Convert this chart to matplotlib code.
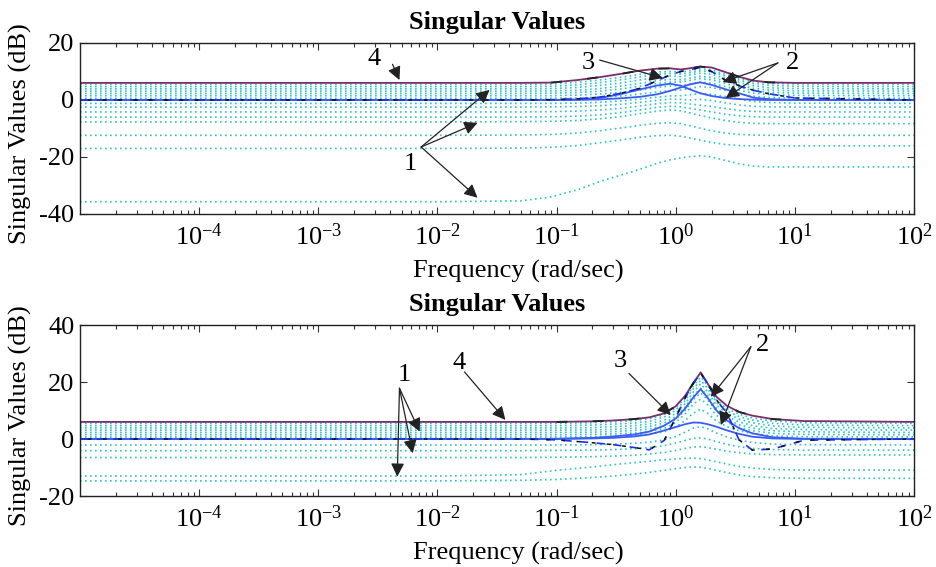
import numpy as np
import matplotlib
matplotlib.use('Agg')
import matplotlib.pyplot as plt
from matplotlib.ticker import LogLocator, NullFormatter, FixedLocator, FixedFormatter

plt.rcParams['font.family'] = ['Liberation Serif', 'DejaVu Serif']
plt.rcParams['axes.unicode_minus'] = False

# ---- top plot data (dB) ----
w_top = [1e-5, 0.01, 0.05, 0.09, 0.15, 0.23, 0.35, 0.5, 0.7, 0.9,
         1.1, 1.3, 1.6, 2.0, 2.6, 3.5, 4.5, 6, 10, 100]
top_sv4 = [6, 6, 6, 6.1, 7.0, 8.0, 9.2, 10.3, 11.0, 11.1,
           10.7, 11.1, 11.7, 11.4, 9.8, 8.0, 6.8, 6.2, 6.0, 6.0]
top_blue1 = [0, 0, 0, 0, 0.2, 0.7, 2.1, 3.7, 5.1, 5.7,
             5.0, 3.8, 2.4, 1.4, 0.7, 0.3, 0.1, 0, 0, 0]
top_blue2 = [0, 0, 0, 0, 0, 0.2, 0.6, 1.1, 2.0, 3.2,
             4.4, 5.4, 6.2, 5.3, 3.8, 2.2, 0.8, 0.3, 0, 0]
top_sv3 = [0, 0, 0, 0.1, 0.4, 1.0, 2.4, 4.1, 6.8, 8.8,
           10.0, 10.6, 11.4, 10.0, 7.0, 4.8, 3.4, 2.2, 0.7, 0]
top_cyan = [
    [5.5, 5.5, 5.5, 5.6, 6.2, 7.0, 8.0, 9.0, 9.8, 10.0, 9.8, 10.2, 10.9, 10.6, 9.0, 7.4, 6.5, 5.9, 5.6, 5.5],
    [4.7, 4.7, 4.7, 4.8, 5.3, 6.1, 7.1, 8.1, 9.0, 9.3, 9.1, 9.5, 10.2, 9.9, 8.4, 6.8, 5.8, 5.2, 4.8, 4.7],
    [3.9, 3.9, 3.9, 4.0, 4.4, 5.1, 6.0, 7.0, 8.0, 8.4, 8.2, 8.7, 9.4, 9.0, 7.6, 6.0, 5.0, 4.3, 4.0, 3.9],
    [3.1, 3.1, 3.1, 3.2, 3.4, 4.0, 4.9, 5.8, 6.8, 7.2, 7.1, 7.6, 8.3, 7.9, 6.6, 5.1, 4.1, 3.5, 3.2, 3.1],
    [2.3, 2.3, 2.3, 2.4, 2.6, 3.1, 3.9, 4.8, 5.8, 6.3, 6.3, 6.8, 7.5, 7.1, 5.8, 4.3, 3.3, 2.7, 2.4, 2.3],
    [1.5, 1.5, 1.5, 1.5, 1.7, 2.1, 2.7, 3.5, 4.4, 4.9, 5.1, 5.6, 6.3, 5.9, 4.7, 3.3, 2.4, 1.9, 1.6, 1.5],
    [0.6, 0.6, 0.6, 0.6, 0.7, 1.0, 1.4, 2.1, 2.8, 3.3, 3.5, 4.0, 4.7, 4.4, 3.3, 2.1, 1.3, 0.9, 0.7, 0.6],
    [-1.2, -1.2, -1.2, -1.2, -1.1, -0.8, -0.3, 0.3, 1.0, 1.4, 1.5, 1.8, 2.3, 2.0, 1.2, 0.2, -0.5, -0.9, -1.1, -1.2],
    [-2.5, -2.5, -2.5, -2.4, -2.3, -2.0, -1.5, -0.8, -0.1, 0.3, 0.2, 0.0, 0.2, -0.2, -1.0, -1.8, -2.2, -2.4, -2.5, -2.5],
    [-4.2, -4.2, -4.2, -4.1, -3.9, -3.5, -2.9, -2.1, -1.3, -0.9, -1.0, -1.4, -1.8, -2.3, -3.0, -3.7, -4.0, -4.2, -4.2, -4.2],
    [-6.0, -6.0, -6.0, -5.9, -5.7, -5.2, -4.4, -3.5, -2.6, -2.2, -2.4, -2.9, -3.5, -4.2, -5.0, -5.6, -5.9, -6.0, -6.0, -6.0],
    [-7.7, -7.7, -7.6, -7.5, -7.2, -6.6, -5.8, -4.8, -3.9, -3.5, -3.8, -4.5, -5.4, -6.3, -7.2, -7.9, -8.2, -8.3, -8.3, -8.3],
    [-12.4, -12.4, -12.3, -12.1, -11.6, -10.8, -9.8, -8.9, -8.2, -8.0, -8.3, -9.0, -9.9, -10.8, -11.6, -12.1, -12.3, -12.4, -12.4, -12.4],
    [-17.0, -17.0, -16.9, -16.6, -16.0, -15.0, -14.0, -13.1, -12.5, -12.4, -12.7, -13.3, -14.1, -14.9, -15.6, -16.0, -16.1, -16.1, -16.1, -16.1],
    [-35.7, -35.7, -35.4, -34.0, -31.5, -28.6, -26.3, -24.3, -22.2, -21.0, -20.3, -19.9, -19.6, -20.0, -21.2, -22.5, -23.2, -23.5, -23.5, -23.5],
]

# ---- bottom plot data (dB) ----
w_bot = [1e-5, 0.01, 0.05, 0.1, 0.2, 0.3, 0.45, 0.6, 0.8, 1.0, 1.2,
         1.4, 1.62, 1.85, 2.2, 2.7, 3.4, 4.4, 6.5, 12, 100]
bot_sv4 = [6, 6, 6, 6, 6.2, 6.5, 7.0, 7.6, 9.0, 11.5, 15.2,
           19.5, 23.4, 19.5, 14.8, 11.6, 9.5, 8.2, 7.0, 6.3, 6.0]
bot_blue1 = [0, 0, 0, 0.1, 0.4, 0.9, 1.6, 2.6, 4.7, 7.2, 10.7,
             14.5, 17.5, 14.5, 10.0, 6.5, 3.8, 2.0, 0.6, 0.1, 0]
bot_blue2 = [0, 0, 0, 0, 0.2, 0.4, 0.9, 1.6, 3.0, 4.2, 5.2,
             5.8, 5.7, 5.2, 4.3, 3.0, 1.8, 0.8, 0.2, 0, 0]
bot_sv3 = [0, 0, 0, -0.3, -1.3, -2.0, -3.0, -3.8, -0.5, 7.5, 14.5,
           19.5, 23.0, 19.5, 13.7, 9.0, -0.3, -3.9, -3.5, -0.4, 0]
bot_cyan = [
    [5.5, 5.5, 5.5, 5.5, 5.7, 6.0, 6.5, 7.1, 8.5, 11.0, 14.3, 18.5, 21.8, 18.8, 13.6, 10.6, 8.7, 7.4, 6.3, 5.7, 5.5],
    [4.7, 4.7, 4.7, 4.7, 4.9, 5.2, 5.6, 6.2, 7.7, 10.1, 13.5, 17.6, 20.6, 17.8, 12.8, 9.8, 7.9, 6.6, 5.5, 4.9, 4.7],
    [3.9, 3.9, 3.9, 3.9, 4.0, 4.3, 4.7, 5.3, 6.6, 9.0, 12.4, 16.4, 19.4, 16.6, 11.9, 8.9, 7.0, 5.7, 4.6, 4.1, 3.9],
    [3.1, 3.1, 3.1, 3.1, 3.2, 3.4, 3.8, 4.4, 5.6, 7.9, 11.2, 15.1, 17.8, 15.3, 10.8, 7.9, 6.0, 4.7, 3.7, 3.3, 3.1],
    [2.3, 2.3, 2.3, 2.3, 2.4, 2.6, 3.0, 3.5, 4.7, 6.9, 10.0, 13.8, 16.2, 13.8, 9.6, 6.9, 5.0, 3.8, 2.9, 2.5, 2.3],
    [1.5, 1.5, 1.5, 1.5, 1.6, 1.8, 2.1, 2.6, 3.7, 5.8, 8.8, 12.2, 14.0, 12.0, 8.3, 5.8, 4.1, 2.9, 2.0, 1.6, 1.5],
    [0.7, 0.7, 0.7, 0.7, 0.8, 1.0, 1.3, 1.7, 2.6, 4.2, 6.5, 9.0, 10.5, 9.0, 6.3, 4.3, 2.9, 1.9, 1.1, 0.8, 0.7],
    [-2.1, -2.1, -2.1, -2.1, -2.0, -1.8, -1.5, -1.1, -0.3, 0.9, 2.4, 3.8, 4.3, 3.6, 2.1, 0.7, -0.4, -1.2, -1.8, -2.0, -2.1],
    [-4.1, -4.1, -4.1, -4.0, -3.9, -3.7, -3.4, -3.0, -2.3, -1.4, -0.5, 0.2, 0.4, 0.0, -0.9, -1.9, -2.7, -3.3, -3.7, -3.9, -3.9],
    [-6.5, -6.5, -6.5, -6.4, -6.2, -6.0, -5.7, -5.3, -4.7, -4.0, -3.3, -2.8, -2.7, -3.0, -3.6, -4.3, -4.8, -5.2, -5.5, -5.6, -5.6],
    [-13.0, -13.0, -12.5, -11.0, -9.8, -9.0, -8.3, -7.8, -7.3, -7.0, -6.8, -6.7, -6.9, -7.3, -8.0, -8.8, -9.6, -10.2, -10.7, -10.9, -10.9],
    [-14.7, -14.7, -14.5, -14.2, -13.5, -13.0, -12.3, -11.7, -11.0, -10.4, -10.0, -9.8, -9.9, -10.3, -11.0, -11.8, -12.6, -13.2, -13.6, -13.8, -13.8],
]

xticks = [1e-4, 1e-3, 1e-2, 1e-1, 1e0, 1e1, 1e2]
xticklabels = [r'$\mathregular{10^{-4}}$', r'$\mathregular{10^{-3}}$', r'$\mathregular{10^{-2}}$',
               r'$\mathregular{10^{-1}}$', r'$\mathregular{10^{0}}$', r'$\mathregular{10^{1}}$',
               r'$\mathregular{10^{2}}$']

# annotations: (label, text pos, arrow tail, [arrow tips])
top_notes = [
    ('4', (0.00295, 14.5), (0.0042, 12.5), [(0.0048, 7.0)]),
    ('1', (0.0059, -22.5), (0.0073, -16.5), [(0.0274, 3.5), (0.0217, -8.0), (0.0217, -34.3)]),
    ('3', (0.186, 13.0), (0.23, 14.0), [(0.78, 7.7)]),
    ('2', (9.6, 13.0), (7.2, 13.0), [(2.48, 6.3), (2.63, 0.7)]),
]
bot_notes = [
    ('1', (0.0053, 22.5), (0.0048, 17.8), [(0.0071, 2.6), (0.0062, -5.0), (0.0046, -13.2)]),
    ('4', (0.0153, 26.5), (0.0169, 23.5), [(0.0372, 6.7)]),
    ('3', (0.345, 27.5), (0.405, 23.0), [(0.908, 8.4)]),
    ('2', (5.3, 33.0), (4.27, 32.4), [(1.97, 14.8), (2.39, 4.9)]),
]

fig = plt.figure(figsize=(9.36, 5.67), dpi=100)
ax1 = fig.add_axes([0.0855, 0.6226, 0.891, 0.3016])
ax2 = fig.add_axes([0.0855, 0.1252, 0.891, 0.3016])

cyan = '#2cc5c8'
purple = '#7a2d6c'
blue = '#3a5cf5'
dark_blue = '#1f2fe6'


def draw(ax, w, cyan_lines, sv4, blue1, blue2, sv3, notes, ylim, yticks):
    for c in cyan_lines:
        ax.plot(w, c, color=cyan, lw=1.2, linestyle=(0, (1, 2.0)))
    ax.plot(w, blue2, color=blue, lw=1.3)
    ax.plot(w, blue1, color=blue, lw=1.3)
    ax.plot(w, sv4, color=purple, lw=1.3)
    # black dashes sitting on the purple curve in the mid band
    ax.plot(w[3:-1], sv4[3:-1], color='#222222', lw=1.3, linestyle=(0, (6, 14)))
    ax.plot(w, sv3, color=dark_blue, lw=1.2, linestyle=(0, (5, 5)))
    ax.plot(w, sv3, color='#111111', lw=1.1, linestyle=(5, (2.5, 7.5)))

    for label, tpos, tail, tips in notes:
        ax.text(tpos[0], tpos[1], label, fontsize=19, ha='center', va='center')
        for tip in tips:
            ax.annotate('', xy=tip, xytext=tail,
                        arrowprops=dict(arrowstyle='-|>', color='#222222', lw=0.9,
                                        mutation_scale=20, shrinkA=0, shrinkB=0))

    ax.set_xscale('log')
    ax.set_xlim(1e-5, 1e2)
    ax.set_ylim(*ylim)
    ax.set_yticks(yticks)
    ax.xaxis.set_major_locator(FixedLocator(xticks))
    ax.xaxis.set_major_formatter(FixedFormatter(xticklabels))
    ax.xaxis.set_minor_locator(LogLocator(base=10, subs=np.arange(2, 10), numticks=100))
    ax.xaxis.set_minor_formatter(NullFormatter())
    ax.tick_params(which='both', direction='in', top=True, right=True,
                   color='#333333', width=0.8, labelsize=19)
    ax.tick_params(which='major', length=5)
    ax.tick_params(which='minor', length=3)
    ax.tick_params(axis='x', pad=7)
    ax.tick_params(axis='y', pad=4)
    for s in ax.spines.values():
        s.set_linewidth(1.0)
        s.set_color('#222222')
    ax.set_title('Singular Values', fontsize=19, fontweight='bold', pad=10)
    ax.set_xlabel('Frequency (rad/sec)', fontsize=19, labelpad=0)
    ax.xaxis.set_label_coords(0.526, -0.27)
    ax.set_ylabel('Singular Values (dB)', fontsize=19)
    ax.yaxis.set_label_coords(-0.058, 0.47)


draw(ax1, w_top, top_cyan, top_sv4, top_blue1, top_blue2, top_sv3, top_notes,
     (-40, 20), [-40, -20, 0, 20])
draw(ax2, w_bot, bot_cyan, bot_sv4, bot_blue1, bot_blue2, bot_sv3, bot_notes,
     (-20, 40), [-20, 0, 20, 40])

fig.savefig('out.png', dpi=100)
